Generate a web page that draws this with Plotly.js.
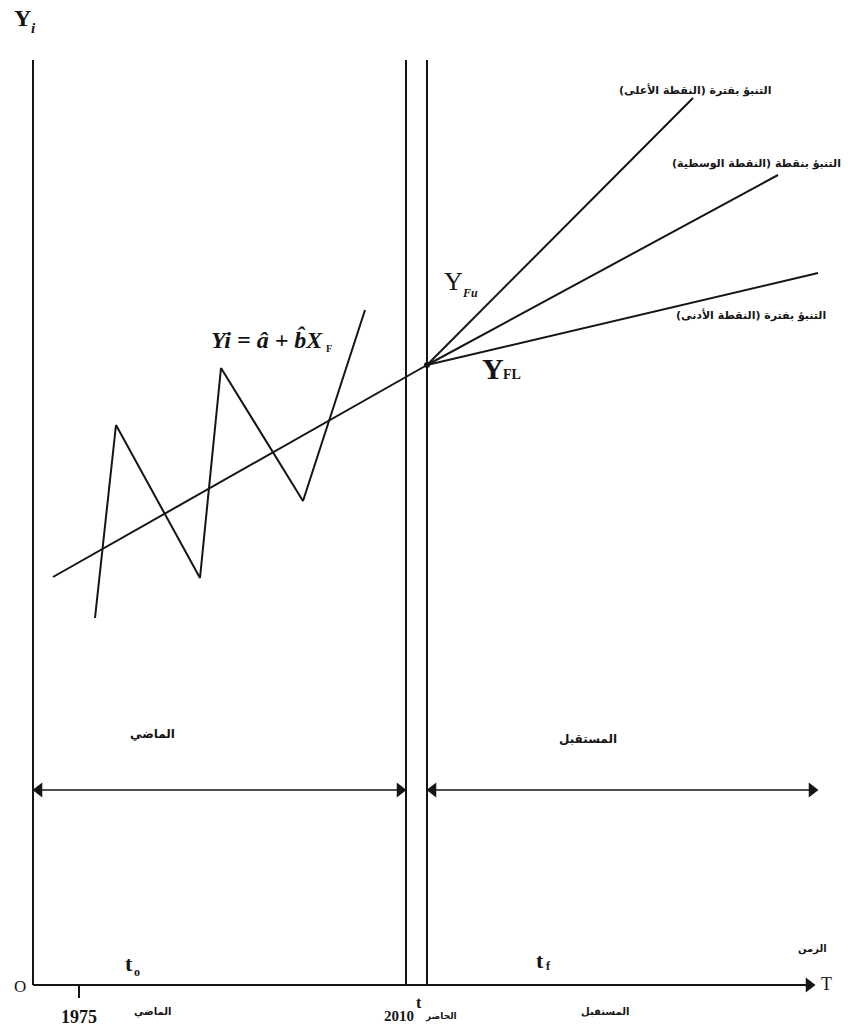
<!DOCTYPE html>
<html>
<head>
<meta charset="utf-8">
<script src="https://cdn.plot.ly/plotly-3.0.1.min.js"></script>
<style>html,body{margin:0;padding:0;background:#fff;}#chart{width:848px;height:1032px;}</style>
</head>
<body>
<div id="chart"></div>
<script>
// ---- data (units measured from the origin O) ----
const actualX = [62, 83, 167, 188, 270, 332];
const actualY = [367, 560, 407, 617, 484, 675];
const trendX = [20, 394];
const trendY = [408, 620];
const forecastOrigin = [394, 620];
const forecastUpperEnd = [660, 887];
const forecastMidEnd = [745, 810];
const forecastLowerEnd = [785, 712];
const pastStart = 0;
const presentLeft = 373;
const presentRight = 394;
const futureEnd = 785;
const timeAxisEnd = 782;
const plotTop = 925;
const periodArrowY = 195;
const tick1975 = 46;
const tickLabels = ['1975', '2010'];
const labels = {
  upper: 'التنبؤ بفترة (النقطة الأعلى)',
  middle: 'التنبؤ بنقطة (النقطة الوسطية)',
  lower: 'التنبؤ بفترة (النقطة الأدنى)',
  past: 'الماضي',
  future: 'المستقبل',
  present: 'الحاضر',
  time: 'الزمن'
};

const ink = '#151515';
const lw = 2;
const head = 6; // half-length of an arrowhead, in data units
function seg(x, y, w) {
  return {x: x, y: y, mode: 'lines', type: 'scatter', hoverinfo: 'skip',
          line: {color: ink, width: w || lw}, showlegend: false};
}
function heads(x, y, symbols) {
  return {x: x, y: y, mode: 'markers', type: 'scatter', hoverinfo: 'skip', showlegend: false,
          marker: {symbol: symbols, size: 13, color: ink, line: {width: 0}}};
}
const traces = [
  seg([pastStart, pastStart], [0, plotTop]),
  seg([presentLeft, presentLeft], [0, plotTop]),
  seg([presentRight, presentRight], [0, plotTop]),
  seg(trendX, trendY),
  seg(actualX, actualY),
  seg([forecastOrigin[0], forecastUpperEnd[0]], [forecastOrigin[1], forecastUpperEnd[1]]),
  seg([forecastOrigin[0], forecastMidEnd[0]], [forecastOrigin[1], forecastMidEnd[1]]),
  seg([forecastOrigin[0], forecastLowerEnd[0]], [forecastOrigin[1], forecastLowerEnd[1]]),
  seg([tick1975, tick1975], [0, -13]),
  // time axis with arrow
  seg([pastStart, timeAxisEnd - head], [0, 0]),
  heads([timeAxisEnd - head], [0], ['triangle-right']),
  // past period double arrow
  seg([pastStart + head, presentLeft - head], [periodArrowY, periodArrowY], 1.6),
  heads([pastStart + head, presentLeft - head], [periodArrowY, periodArrowY], ['triangle-left', 'triangle-right']),
  // future period double arrow
  seg([presentRight + head, futureEnd - head], [periodArrowY, periodArrowY], 1.6),
  heads([presentRight + head, futureEnd - head], [periodArrowY, periodArrowY], ['triangle-left', 'triangle-right']),
  {x: [forecastOrigin[0]], y: [forecastOrigin[1]], mode: 'markers', type: 'scatter',
   marker: {color: ink, size: 6}, hoverinfo: 'skip', showlegend: false}
];

const serif = 'Liberation Serif, Times New Roman, serif';
const arab = 'DejaVu Sans, sans-serif';
function txt(x, y, text, size, family, weight, style, xanchor) {
  return {x: x, y: y, xref: 'x', yref: 'y', text: text, showarrow: false,
    xanchor: xanchor || 'center', yanchor: 'middle',
    font: {size: size, family: family, color: ink, weight: weight || 'normal', style: style || 'normal'}};
}

const annotations = [
  txt(-11, 967, 'Y', 24, serif, 'bold'),
  txt(0, 957, 'i', 15, serif, 'bold', 'italic'),
  txt(292, 646, 'Yi = â + b̂X', 24, serif, 'bold', 'italic', 'right'),
  txt(296, 637, 'F', 10, serif, 'bold'),
  txt(420, 704, 'Y', 26, serif),
  txt(437, 692, 'Fu', 12, serif, 'bold', 'italic'),
  txt(460, 617, 'Y', 30, serif, 'bold'),
  txt(479, 611, 'FL', 14, serif, 'bold'),
  txt(662, 895, labels.upper, 11, arab, 'bold'),
  txt(723, 822, labels.middle, 11, arab, 'bold'),
  txt(718, 670, labels.lower, 11, arab, 'bold'),
  txt(119, 251, labels.past, 12, arab, 'bold'),
  txt(555, 246, labels.future, 12, arab, 'bold'),
  txt(96, 22, 't', 22, serif, 'bold'),
  txt(104, 13, 'o', 12, serif, 'bold'),
  txt(507, 25, 't', 22, serif, 'bold'),
  txt(515, 19, 'f', 12, serif, 'bold'),
  txt(779, 36, labels.time, 10, arab, 'bold'),
  txt(-13, -1, 'O', 17, serif),
  txt(793, 1, 'T', 18, serif),
  txt(tick1975, -32, tickLabels[0], 18, serif, 'bold'),
  txt(119, -27, labels.past, 10, arab, 'bold'),
  txt(386, -17, 't', 16, serif, 'bold'),
  txt(366, -31, tickLabels[1], 15, serif, 'bold'),
  txt(408, -31, labels.present, 9, arab, 'bold'),
  txt(572, -26, labels.future, 10, arab, 'bold')
];

const layout = {
  width: 848, height: 1032,
  margin: {l: 0, r: 0, t: 0, b: 0, pad: 0},
  paper_bgcolor: '#fff', plot_bgcolor: '#fff',
  showlegend: false,
  xaxis: {range: [-33, 815], visible: false, fixedrange: true},
  yaxis: {range: [-47, 985], visible: false, fixedrange: true},
  annotations: annotations
};
Plotly.newPlot('chart', traces, layout, {staticPlot: true, displayModeBar: false});
</script>
</body>
</html>
